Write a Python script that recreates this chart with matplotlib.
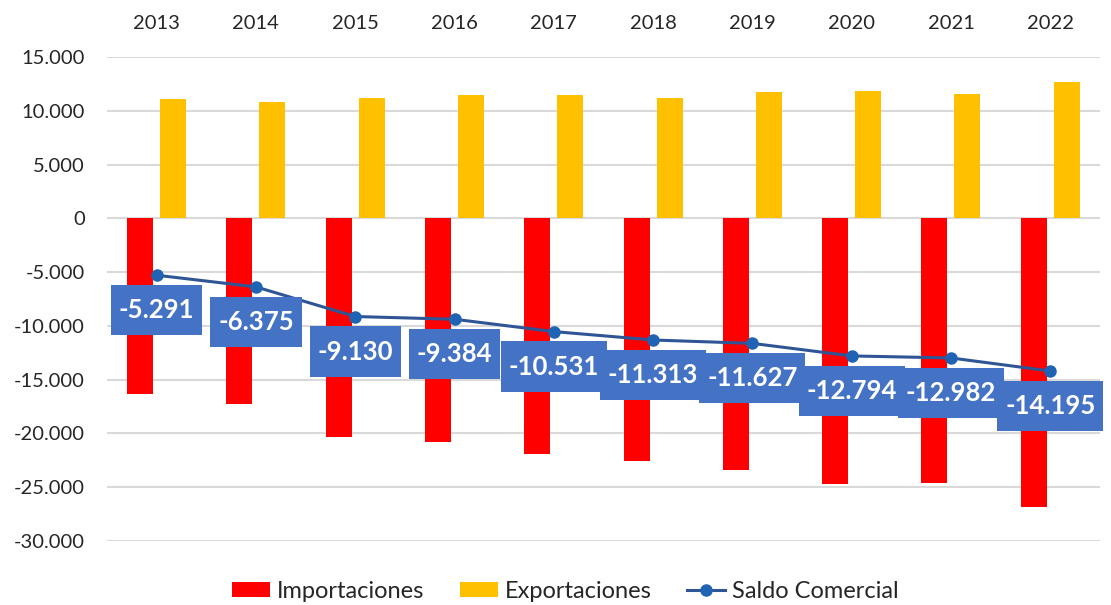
import numpy as np
import matplotlib
matplotlib.use("Agg")
import matplotlib.pyplot as plt

plt.rcParams['font.family'] = ['Lato', 'DejaVu Sans']

years = ['2013', '2014', '2015', '2016', '2017', '2018', '2019', '2020', '2021', '2022']
exportaciones = [11050, 10860, 11170, 11420, 11420, 11230, 11790, 11880, 11600, 12630]
importaciones = [-16341, -17235, -20300, -20804, -21951, -22543, -23417, -24674, -24582, -26825]
saldo = [-5291, -6375, -9130, -9384, -10531, -11313, -11627, -12794, -12982, -14195]

def fmt(v):
    # thousands separator with a dot
    return f"{v:,.0f}".replace(",", ".")

fig = plt.figure(figsize=(11.11, 6.05), dpi=100)
ax = fig.add_axes([0.0963, 0.1058, 0.8937, 0.8000])

x = np.arange(len(years))
w = 0.262
off = 0.166
b1 = ax.bar(x - off, importaciones, w, color='#FF0000', label='Importaciones', zorder=2)
b2 = ax.bar(x + off, exportaciones, w, color='#FFC000', label='Exportaciones', zorder=2)
l1, = ax.plot(x, saldo, color='#2F5597', lw=2.2, marker='o', ms=8,
              mfc='#1F64B4', mec='#1F64B4', label='Saldo Comercial', zorder=3)

for xi, v in zip(x, saldo):
    ax.annotate(fmt(v), (xi, v), xytext=(0, -35), textcoords='offset pixels',
                ha='center', va='center', color='white', fontsize=18.5, fontweight='bold',
                bbox=dict(boxstyle='square,pad=0.3', fc='#4472C4', ec='none',
                          mutation_aspect=1.7), zorder=4)

ax.set_xlim(-0.5, len(years) - 0.5)
ax.set_ylim(-30000, 15000)
ax.set_yticks(np.arange(-30000, 15001, 5000))
ax.set_yticklabels([fmt(t) for t in np.arange(-30000, 15001, 5000)])
ax.set_xticks(x)
ax.set_xticklabels(years)
ax.xaxis.tick_top()
ax.tick_params(axis='x', length=0, pad=18, labelsize=14.5, colors='#262626')
ax.tick_params(axis='y', length=0, pad=16, labelsize=14.5, colors='#262626')
ax.grid(axis='y', color='#D9D9D9', lw=1.5, zorder=0)
ax.set_axisbelow(True)
for s in ax.spines.values():
    s.set_visible(False)

fig.legend([b1, b2, l1], ['Importaciones', 'Exportaciones', 'Saldo Comercial'],
           loc='lower center', bbox_to_anchor=(0.509, -0.03), ncol=3, frameon=False,
           fontsize=17, handlelength=1.6, handleheight=0.65, columnspacing=1.5,
           handletextpad=0.3, labelcolor='#262626')

fig.savefig('out.png', dpi=100)
